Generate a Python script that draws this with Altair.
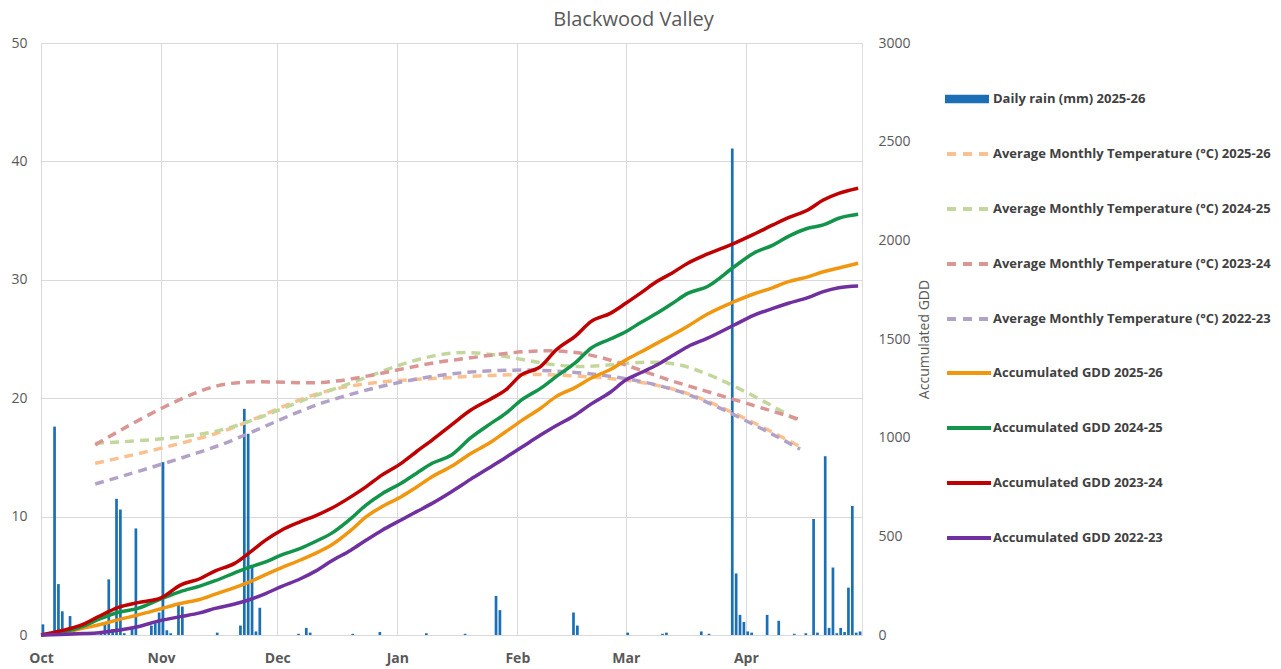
import altair as alt
import pandas as pd

# ---------------- data ----------------
seasons = ["2025-26", "2024-25", "2023-24", "2022-23"]

rain_dates = [
    "2025-10-01", "2025-10-04", "2025-10-05", "2025-10-06", "2025-10-07", "2025-10-08",
    "2025-10-09", "2025-10-13", "2025-10-16", "2025-10-17", "2025-10-18", "2025-10-19",
    "2025-10-20", "2025-10-21", "2025-10-22", "2025-10-24", "2025-10-25", "2025-10-29",
    "2025-10-30", "2025-10-31", "2025-11-01", "2025-11-02", "2025-11-03", "2025-11-05",
    "2025-11-06", "2025-11-15", "2025-11-21", "2025-11-22", "2025-11-23", "2025-11-24",
    "2025-11-25", "2025-11-26", "2025-12-06", "2025-12-08", "2025-12-09", "2025-12-20",
    "2025-12-27", "2026-01-08", "2026-01-18", "2026-01-26", "2026-01-27", "2026-02-15",
    "2026-02-16", "2026-03-01", "2026-03-10", "2026-03-11", "2026-03-20", "2026-03-22",
    "2026-03-28", "2026-03-29", "2026-03-30", "2026-03-31", "2026-04-01", "2026-04-02",
    "2026-04-06", "2026-04-09", "2026-04-13", "2026-04-16", "2026-04-18", "2026-04-19",
    "2026-04-21", "2026-04-22", "2026-04-23", "2026-04-24", "2026-04-25", "2026-04-26",
    "2026-04-27", "2026-04-28", "2026-04-29", "2026-04-30",
]
rain_mm = [
    0.9, 17.6, 4.3, 2.0, 0.5, 1.6,
    0.3, 0.2, 0.3, 1.0, 4.7, 0.5,
    11.5, 10.6, 0.15, 0.5, 9.0, 0.8,
    1.0, 1.9, 14.6, 0.4, 0.15, 2.6,
    2.4, 0.2, 0.8, 19.1, 17.0, 5.8,
    0.3, 2.3, 0.1, 0.6, 0.2, 0.1,
    0.25, 0.15, 0.1, 3.3, 2.1, 1.9,
    0.8, 0.2, 0.1, 0.2, 0.3, 0.1,
    41.1, 5.2, 1.7, 1.1, 0.3, 0.2,
    1.7, 1.2, 0.1, 0.15, 9.8, 0.2,
    15.1, 0.6, 5.7, 0.15, 0.6, 0.25,
    4.0, 10.9, 0.2, 0.3,
]

temp_dates = ["2025-10-15", "2025-11-15", "2025-12-15", "2026-01-15",
              "2026-02-15", "2026-03-15", "2026-04-15"]
temp_2025_26 = [14.5, 17.0, 20.7, 21.75, 21.9, 20.6, 15.9]
temp_2024_25 = [16.2, 17.2, 20.7, 23.8, 22.7, 22.8, 18.0]
temp_2023_24 = [16.05, 21.0, 21.4, 23.2, 23.9, 21.25, 18.2]
temp_2022_23 = [12.75, 15.9, 19.85, 22.05, 22.2, 20.55, 15.7]

# days after 1 October
gdd_days = [0, 5, 11, 15, 20, 25, 31, 36, 41, 45, 50, 54, 58, 62, 67, 71, 75, 80, 84, 88,
            93, 97, 101, 106, 111, 116, 120, 124, 129, 133, 138, 142, 147, 151, 155, 159,
            163, 167, 172, 179, 184, 189, 193, 198, 202, 206, 211]
gdd_2025_26 = [0, 10, 35, 52, 78, 101, 133, 160, 180, 207, 240, 270, 306, 340, 380, 415,
               456, 530, 600, 650, 701, 750, 802, 855, 920, 975, 1030, 1085, 1149, 1208,
               1255, 1301, 1345, 1394, 1435, 1478, 1520, 1565, 1625, 1689, 1728, 1760,
               1791, 1815, 1841, 1860, 1884]
gdd_2024_25 = [0, 12, 45, 80, 115, 135, 183, 220, 248, 275, 315, 345, 370, 405, 439, 475,
               515, 590, 660, 715, 769, 820, 870, 912, 1000, 1070, 1123, 1190, 1250, 1309,
               1380, 1453, 1500, 1537, 1585, 1630, 1680, 1731, 1765, 1866, 1935, 1976,
               2020, 2061, 2078, 2112, 2132]
gdd_2023_24 = [0, 20, 55, 95, 140, 164, 188, 253, 285, 325, 363, 420, 481, 530, 574, 605,
               642, 700, 752, 810, 870, 930, 988, 1065, 1140, 1195, 1242, 1318, 1360, 1444,
               1515, 1588, 1630, 1681, 1735, 1791, 1835, 1884, 1930, 1985, 2030, 2078,
               2115, 2154, 2204, 2238, 2264]
gdd_2022_23 = [0, 2, 7, 12, 24, 42, 74, 93, 112, 135, 157, 180, 210, 245, 285, 325, 375,
               430, 481, 530, 583, 625, 667, 726, 790, 850, 900, 950, 1013, 1060, 1115,
               1170, 1230, 1292, 1330, 1368, 1415, 1461, 1503, 1571, 1620, 1655, 1681,
               1710, 1740, 1760, 1769]

month_labels = ["Oct", "Nov", "Dec", "Jan", "Feb", "Mar", "Apr"]
month_years = [2025, 2025, 2025, 2026, 2026, 2026, 2026]

# ---------------- styling ----------------
FONT = "Open Sans"
TXT = "#595959"
LEG = "#404040"
GRID = "#d9d9d9"
RAIN_COLOR = "#1b6fb5"
TEMP_COLORS = ["#fac090", "#c3d69b", "#d99694", "#b3a2c7"]
GDD_COLORS = ["#f0960f", "#12954a", "#c00000", "#7030a0"]

rain_name = "Daily rain (mm) 2025-26"
temp_names = [f"Average Monthly Temperature (°C) {s}" for s in seasons]
gdd_names = [f"Accumulated GDD {s}" for s in seasons]

# ---------------- tables ----------------
rain_df = pd.DataFrame({
    "date": [d + "T12:00:00Z" for d in rain_dates],
    "rain": rain_mm,
    "series": rain_name,
})

temp_series = [temp_2025_26, temp_2024_25, temp_2023_24, temp_2022_23]
temp_df = pd.concat([
    pd.DataFrame({"date": [d + "T00:00:00Z" for d in temp_dates], "temp": vals, "series": name})
    for name, vals in zip(temp_names, temp_series)
])

start = pd.Timestamp("2025-10-01")
gdd_dates = [(start + pd.Timedelta(days=d)).strftime("%Y-%m-%dT%H:%M:%SZ") for d in gdd_days]
gdd_series = [gdd_2025_26, gdd_2024_25, gdd_2023_24, gdd_2022_23]
gdd_df = pd.concat([
    pd.DataFrame({"date": gdd_dates, "gdd": vals, "series": name})
    for name, vals in zip(gdd_names, gdd_series)
])

# ---------------- encodings ----------------
month_values = [alt.DateTime(year=y, month=m, date=1, utc=True)
                for y, m in zip(month_years, month_labels)]

x_enc = alt.X(
    "date:T",
    title=None,
    scale=alt.Scale(type="utc", padding=0,
                    domain=[alt.DateTime(year=2025, month="Oct", date=1, utc=True),
                            alt.DateTime(year=2026, month="May", date=1, utc=True)]),
    axis=alt.Axis(values=month_values, format="%b", labelFont=FONT, labelFontSize=14,
                  labelFontWeight="bold", labelColor=TXT, grid=True, gridColor=GRID,
                  domain=False, ticks=False, labelPadding=16, labelFlush=False,
                  labelBound=False),
)

left_scale = alt.Scale(domain=[0, 50], nice=False)
left_axis = alt.Axis(values=[0, 10, 20, 30, 40, 50], labelFont=FONT, labelFontSize=14,
                     labelColor=TXT, grid=True, gridColor=GRID, domain=False, ticks=False,
                     labelPadding=14, title=None)

SYM_W = 44 * 44
LEG_COMMON = dict(title=None, orient="none", legendX=904, labelFont=FONT, labelFontSize=13,
                  labelFontWeight="bold", labelColor=LEG, labelLimit=400)

rain = alt.Chart(rain_df).mark_bar(size=2.7).encode(
    x=x_enc,
    y=alt.Y("rain:Q", scale=left_scale, axis=left_axis),
    color=alt.Color("series:N",
                    scale=alt.Scale(domain=[rain_name], range=[RAIN_COLOR]),
                    legend=alt.Legend(legendY=34,
                                      symbolType="M-1,-0.19L1,-0.19L1,0.19L-1,0.19Z",
                                      symbolSize=SYM_W, symbolStrokeWidth=0,
                                      labelOffset=4, **LEG_COMMON)),
)

temp = alt.Chart(temp_df).mark_line(strokeWidth=3.5, strokeDash=[9, 6],
                                    interpolate="catmull-rom").encode(
    x=x_enc,
    y=alt.Y("temp:Q", scale=left_scale, axis=left_axis),
    color=alt.Color("series:N",
                    scale=alt.Scale(domain=temp_names, range=TEMP_COLORS),
                    sort=temp_names,
                    legend=alt.Legend(legendY=87,
                                      symbolType="stroke", symbolSize=SYM_W,
                                      symbolStrokeWidth=4, symbolDash=[9, 7],
                                      labelOffset=0, rowPadding=23, **LEG_COMMON)),
)

gdd = alt.Chart(gdd_df).mark_line(strokeWidth=3.5, interpolate="monotone").encode(
    x=x_enc,
    y=alt.Y("gdd:Q", scale=alt.Scale(domain=[0, 3000], nice=False),
            axis=alt.Axis(orient="right", values=[0, 500, 1000, 1500, 2000, 2500, 3000],
                          format="d",
                          labelFont=FONT, labelFontSize=14, labelColor=TXT, grid=False,
                          domain=False, ticks=False, labelPadding=16,
                          title="Accumulated GDD", titleFont=FONT, titleFontSize=14,
                          titleFontWeight="normal", titleColor=TXT, titleAngle=270,
                          titlePadding=21)),
    color=alt.Color("series:N",
                    scale=alt.Scale(domain=gdd_names, range=GDD_COLORS),
                    sort=gdd_names,
                    legend=alt.Legend(legendY=306,
                                      symbolType="stroke", symbolSize=SYM_W,
                                      symbolStrokeWidth=4,
                                      labelOffset=0, rowPadding=23, **LEG_COMMON)),
)

left = alt.layer(rain, temp).resolve_scale(color="independent")

chart = alt.layer(left, gdd).resolve_scale(
    y="independent", color="independent"
).properties(
    width=821,
    height=592,
    autosize=alt.AutoSizeParams(type="none"),
    padding={"left": 41, "top": 43, "right": 419, "bottom": 34},
    title=alt.TitleParams("Blackwood Valley", font=FONT, fontSize=20, fontWeight="normal",
                          color=TXT, anchor="middle", frame="group", dx=182, offset=6),
).configure_view(
    stroke=GRID, strokeWidth=1
).configure(background="white")

chart.save("out.html", embed_options={"renderer": "svg", "actions": False})
